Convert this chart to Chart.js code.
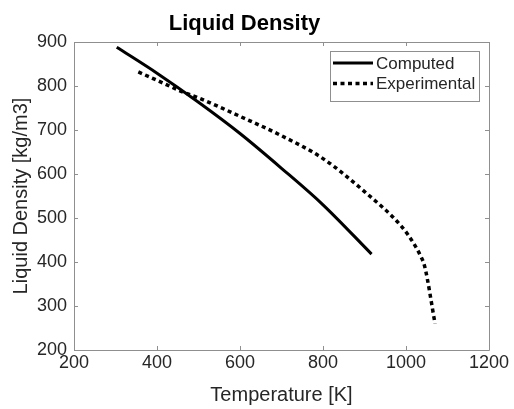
<!DOCTYPE html>
<html>
<head>
<meta charset="utf-8">
<script src="https://cdn.jsdelivr.net/npm/chart.js@4.4.0/dist/chart.umd.min.js"></script>
<style>
  html, body { margin: 0; padding: 0; background: #fff; }
  #wrap { width: 514px; height: 409px; position: relative; }
</style>
</head>
<body>
<div id="wrap"><canvas id="c" width="514" height="409"></canvas></div>
<script>
// ---- data ----
const computedT   = [303, 400, 500, 600, 700, 800, 917];
const computedRho = [888, 829, 763, 692, 613, 530, 418];
const experimentalT   = [355, 400, 463, 500, 600, 700, 800, 900, 990, 1020, 1035, 1045, 1070];
const experimentalRho = [832, 813, 786, 773, 731, 687, 635, 560, 480, 440, 414, 390, 260];
const xTickValues = [200, 400, 600, 800, 1000, 1200];
const yTickValues = [200, 300, 400, 500, 600, 700, 800, 900];
const seriesLabels = ['Computed', 'Experimental'];

const FONT = "'Liberation Sans', Arial, Helvetica, sans-serif";
const TXT = '#262626';
const AXIS = '#8f8f8f';

function pts(xs, ys) { return xs.map((x, i) => ({ x: x, y: ys[i] })); }

const boxTicks = {
  id: 'boxTicks',
  afterDraw(chart) {
    const { ctx, chartArea: a, scales } = chart;
    const L = 4;
    ctx.save();
    ctx.strokeStyle = AXIS;
    ctx.lineWidth = 1;
    ctx.beginPath();
    ctx.rect(Math.round(a.left) + 0.5, Math.round(a.top) + 0.5,
             Math.round(a.right - a.left), Math.round(a.bottom - a.top));
    ctx.stroke();
    ctx.beginPath();
    scales.x.ticks.forEach(t => {
      const px = Math.round(scales.x.getPixelForValue(t.value)) + 0.5;
      ctx.moveTo(px, a.bottom); ctx.lineTo(px, a.bottom - L);
      ctx.moveTo(px, a.top); ctx.lineTo(px, a.top + L);
    });
    scales.y.ticks.forEach(t => {
      const py = Math.round(scales.y.getPixelForValue(t.value)) + 0.5;
      ctx.moveTo(a.left, py); ctx.lineTo(a.left + L, py);
      ctx.moveTo(a.right, py); ctx.lineTo(a.right - L, py);
    });
    ctx.stroke();
    ctx.restore();
  }
};

const boxLegend = {
  id: 'boxLegend',
  afterDraw(chart) {
    const { ctx, chartArea: a } = chart;
    const x0 = a.right - 159, y0 = a.top + 9, w = 149, h = 50;
    ctx.save();
    ctx.fillStyle = '#fff';
    ctx.fillRect(x0, y0, w, h);
    ctx.strokeStyle = AXIS;
    ctx.lineWidth = 1;
    ctx.strokeRect(Math.round(x0) + 0.5, Math.round(y0) + 0.5, w, h);
    chart.data.datasets.forEach((ds, i) => {
      const yy = y0 + 12 + i * 20.5;
      ctx.beginPath();
      ctx.strokeStyle = ds.borderColor;
      ctx.lineWidth = ds.borderWidth;
      ctx.setLineDash(ds.borderDash || []);
      ctx.moveTo(x0 + 3, yy);
      ctx.lineTo(x0 + 43, yy);
      ctx.stroke();
      ctx.setLineDash([]);
      ctx.fillStyle = TXT;
      ctx.font = '17px ' + FONT;
      ctx.textBaseline = 'middle';
      ctx.textAlign = 'left';
      ctx.fillText(ds.label, x0 + 46, yy + 1);
    });
    ctx.restore();
  }
};

new Chart(document.getElementById('c'), {
  type: 'line',
  data: {
    datasets: [
      { label: seriesLabels[0], data: pts(computedT, computedRho), borderColor: '#000',
        borderWidth: 3, pointRadius: 0, fill: false, cubicInterpolationMode: 'monotone',
        borderCapStyle: 'butt' },
      { label: seriesLabels[1], data: pts(experimentalT, experimentalRho), borderColor: '#000',
        borderWidth: 3.5, borderDash: [4, 3.5], pointRadius: 0, fill: false,
        cubicInterpolationMode: 'monotone', borderCapStyle: 'butt' }
    ]
  },
  options: {
    responsive: false,
    animation: false,
    events: [],
    layout: { padding: { left: 0, right: 25, top: 0, bottom: 0 } },
    plugins: {
      legend: { display: false },
      tooltip: { enabled: false },
      title: {
        display: true, text: 'Liquid Density', color: '#000',
        font: { family: FONT, size: 22, weight: 'bold', lineHeight: 1.2 },
        padding: { top: 11, bottom: 4.6 }
      }
    },
    scales: {
      x: {
        type: 'linear', min: 200, max: 1200,
        afterBuildTicks: s => { s.ticks = xTickValues.map(v => ({ value: v })); },
        afterFit: s => { s.height = 59; },
        grid: { display: false, drawTicks: false },
        border: { display: false },
        ticks: { color: TXT, font: { family: FONT, size: 18 }, padding: 2, maxRotation: 0,
                 callback: v => String(v) },
        title: { display: true, text: 'Temperature [K]', color: TXT,
                 font: { family: FONT, size: 20, lineHeight: 1.2 }, padding: { top: 0, bottom: 2 } }
      },
      y: {
        type: 'linear', min: 200, max: 900,
        afterBuildTicks: s => { s.ticks = yTickValues.map(v => ({ value: v })); },
        afterFit: s => { s.width = 74; },
        grid: { display: false, drawTicks: false },
        border: { display: false },
        ticks: { color: TXT, font: { family: FONT, size: 18 }, padding: 7,
                 callback: v => String(v) },
        title: { display: true, text: 'Liquid Density [kg/m3]', color: TXT,
                 font: { family: FONT, size: 20, lineHeight: 1.2 }, padding: { top: 9, bottom: 0 } }
      }
    }
  },
  plugins: [boxTicks, boxLegend]
});
</script>
</body>
</html>
